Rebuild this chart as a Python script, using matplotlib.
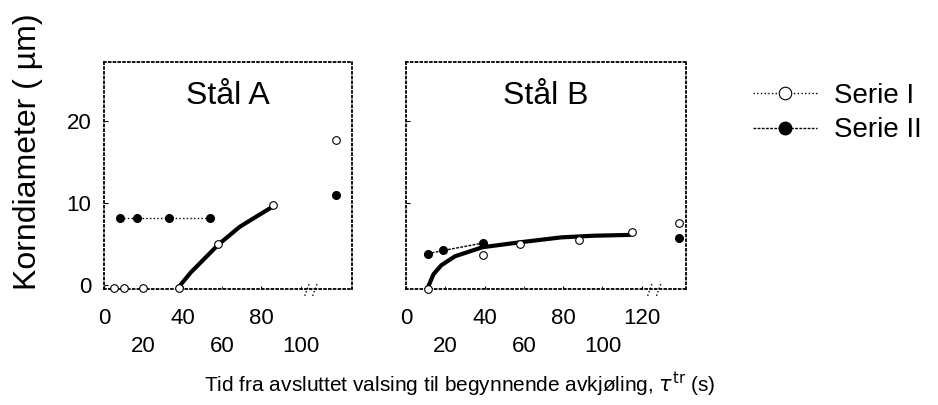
import matplotlib
matplotlib.use('Agg')
import matplotlib.pyplot as plt
from matplotlib.ticker import FixedLocator

plt.rcParams['font.family'] = ['Liberation Sans', 'DejaVu Sans']

# Stål A
a_serie1_x = [5, 10, 20, 38, 58, 86]
a_serie1_y = [-0.4, -0.4, -0.4, -0.4, 5.0, 9.8]
a_serie2_x = [8, 17, 33, 54]
a_serie2_y = [8.2, 8.2, 8.2, 8.2]
a_fit_x = [37.5, 44, 58, 69, 86]
a_fit_y = [-0.4, 1.5, 4.9, 7.1, 9.6]
a_brk_x = 118
a_brk_y1 = 17.7
a_brk_y2 = 11.0

# Stål B
b_serie1_x = [11, 39, 58, 88, 115]
b_serie1_y = [-0.5, 3.7, 5.0, 5.5, 6.5]
b_serie2_x = [11, 19, 39]
b_serie2_y = [3.8, 4.2, 5.1]
b_fit_x = [11, 14, 18, 25, 39, 58, 79, 95, 114]
b_fit_y = [-0.4, 1.3, 2.4, 3.5, 4.6, 5.2, 5.8, 6.0, 6.1]
b_brk_x = 139
b_brk_y1 = 7.6
b_brk_y2 = 5.7

fig = plt.figure(figsize=(9.38, 4.05), dpi=100)
axA = fig.add_axes([0.1109, 0.2864, 0.2644, 0.5605])
axB = fig.add_axes([0.4328, 0.2864, 0.2985, 0.5605])


def style_axes(ax, xmax, top_ticks, low_ticks, brk):
    ax.set_ylim(-0.5, 27.2)
    ax.set_xlim(0, xmax)
    for s in ax.spines.values():
        s.set_linestyle(':')
        s.set_linewidth(1.3)
    ax.xaxis.set_major_locator(FixedLocator(top_ticks))
    ax.xaxis.set_minor_locator(FixedLocator(low_ticks))
    ax.set_xticklabels([str(t) for t in top_ticks])
    ax.set_xticklabels([str(t) for t in low_ticks], minor=True)
    ax.tick_params(axis='x', which='major', direction='in', length=2,
                   labelsize=16, pad=14)
    ax.tick_params(axis='x', which='minor', direction='in', length=2,
                   labelsize=16, pad=34)
    ax.set_yticks([10, 20])
    ax.tick_params(axis='y', direction='in', length=3, labelsize=16, pad=9)
    # axis break marks
    tr = ax.get_xaxis_transform()
    for b in brk:
        ax.plot([b, b + 2.5], [-0.03, 0.03], color='k', lw=1, ls=':',
                transform=tr, clip_on=False)


style_axes(axA, 126, [0, 40, 80], [20, 60, 100], [102, 106])
style_axes(axB, 142.5, [0, 40, 80, 120], [20, 60, 100], [123, 127.5])
axA.set_yticks([0, 10, 20])
axB.set_yticklabels([])

ms = 5.5
for ax, s1x, s1y, s2x, s2y, fx, fy, bx, by1, by2, ls2 in [
    (axA, a_serie1_x, a_serie1_y, a_serie2_x, a_serie2_y, a_fit_x, a_fit_y,
     a_brk_x, a_brk_y1, a_brk_y2, ':'),
    (axB, b_serie1_x, b_serie1_y, b_serie2_x, b_serie2_y, b_fit_x, b_fit_y,
     b_brk_x, b_brk_y1, b_brk_y2, (0, (2, 1))),
]:
    ax.plot(fx, fy, color='k', lw=3, solid_capstyle='round', zorder=2)
    ax.plot(s2x, s2y, color='k', lw=1, ls=ls2, marker='o', ms=ms,
            mfc='k', mec='k', zorder=3, clip_on=False)
    ax.plot(s1x, s1y, ls='none', marker='o', ms=ms, mfc='white',
            mec='k', mew=0.8, zorder=4, clip_on=False)
    ax.plot([bx], [by1], ls='none', marker='o', ms=ms, mfc='white',
            mec='k', mew=0.8, zorder=4)
    ax.plot([bx], [by2], ls='none', marker='o', ms=ms, mfc='k', mec='k',
            zorder=4)

axA.text(0.5, 0.85, 'Stål A', transform=axA.transAxes, ha='center',
         va='center', fontsize=23)
axB.text(0.5, 0.85, 'Stål B', transform=axB.transAxes, ha='center',
         va='center', fontsize=23)

fig.text(0.030, 1 - 152 / 405, 'Korndiameter ( µm)', rotation=90,
         ha='center', va='center', fontsize=23)

fig.text(0.49, 0.05, r'Tid fra avsluttet valsing til begynnende avkjøling, '
         r'$\tau^{\mathrm{tr}}$ (s)', ha='center', va='center', fontsize=15)

h1 = plt.Line2D([], [], color='k', lw=1, ls=':', marker='o', ms=9,
                mfc='white', mec='k', mew=0.8)
h2 = plt.Line2D([], [], color='k', lw=1, ls=(0, (2, 1)), marker='o', ms=9,
                mfc='k', mec='k')
fig.legend([h1, h2], ['Serie I', 'Serie II'], loc='upper left',
           bbox_to_anchor=(0.803, 0.795), frameon=False, fontsize=20,
           handlelength=2.3, handletextpad=0.6, labelspacing=0.3,
           borderpad=0, borderaxespad=0)

fig.savefig('out.png', dpi=100)
